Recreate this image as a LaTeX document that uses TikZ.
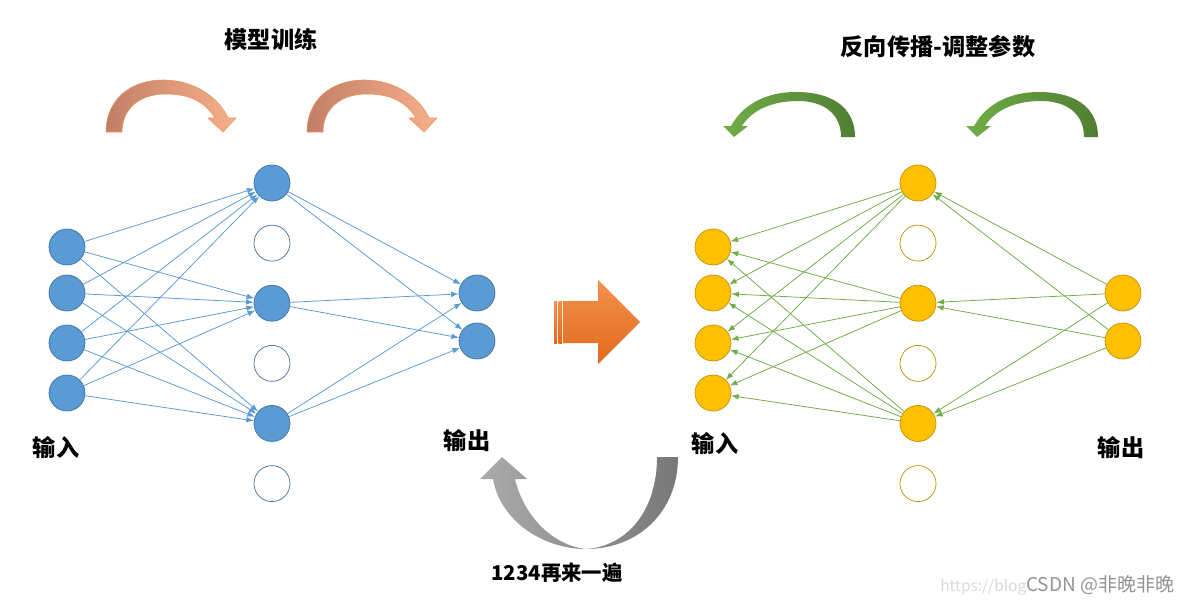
\documentclass[tikz,border=0pt]{standalone}
\usepackage{fontspec}
\newfontfamily\cjk{Noto Sans CJK SC}
\usetikzlibrary{arrows.meta,positioning}
\definecolor{nnblue}{HTML}{5B9BD5}
\definecolor{nnblueline}{HTML}{41719C}
\definecolor{nnyellow}{HTML}{FFC000}
\definecolor{nnyellowline}{HTML}{BF9000}
\definecolor{nngreen}{HTML}{70AD47}
\definecolor{nngreendark}{HTML}{507E32}
\definecolor{orlight}{HTML}{F8B08C}
\definecolor{ordark}{HTML}{C07F66}
\definecolor{orline}{HTML}{F0905A}
\definecolor{ortop}{HTML}{F4914E}
\definecolor{orbottom}{HTML}{E2691A}
\definecolor{graylight}{HTML}{ABABAB}
\definecolor{graydark}{HTML}{787878}

\tikzset{
  bluenode/.style={draw=nnblueline, fill=nnblue, circle, inner sep=0pt, minimum size=0.9cm, line width=0.5pt},
  blueempty/.style={bluenode, fill=white},
  yellownode/.style={draw=nnyellowline, fill=nnyellow, circle, inner sep=0pt, minimum size=0.9cm, line width=0.5pt},
  yellowempty/.style={yellownode, fill=white},
  fwd/.style={-{Latex[length=1.9mm,width=1.4mm]}, draw=nnblue, line width=0.55pt},
  bwd/.style={-{Latex[length=1.9mm,width=1.4mm]}, draw=nngreen, line width=0.55pt},
  label/.style={font=\cjk\bfseries\fontsize{16.5}{18}\selectfont, inner sep=0pt},
  node distance=0.585cm
}

\begin{document}
\begin{tikzpicture}[x=0.025cm, y=-0.025cm]
  \useasboundingbox (0,0) rectangle (1183,604);

  % forward net
  \node[bluenode] (in1) at (67,247) {};
  \node[bluenode] (in2) at (67,293) {};
  \node[bluenode] (in3) at (67,343) {};
  \node[bluenode] (in4) at (67,393) {};
  \node[bluenode] (hid1) at (272,183) {};
  \node[blueempty, below = of hid1] (hid2) {};
  \node[bluenode, below = of hid2] (hid3) {};
  \node[blueempty, below = of hid3] (hid4) {};
  \node[bluenode, below = of hid4] (hid5) {};
  \node[blueempty, below = of hid5] (hid6) {};
  \node[bluenode] (out1) at (477,293) {};
  \node[bluenode] (out2) at (477,341) {};

  \draw[fwd] (in1) -- (hid1);
  \draw[fwd] (in1) -- (hid3);
  \draw[fwd] (in1) -- (hid5);
  \draw[fwd] (in2) -- (hid1);
  \draw[fwd] (in2) -- (hid3);
  \draw[fwd] (in2) -- (hid5);
  \draw[fwd] (in3) -- (hid1);
  \draw[fwd] (in3) -- (hid3);
  \draw[fwd] (in3) -- (hid5);
  \draw[fwd] (in4) -- (hid1);
  \draw[fwd] (in4) -- (hid3);
  \draw[fwd] (in4) -- (hid5);
  \draw[fwd] (hid1) -- (out1);
  \draw[fwd] (hid1) -- (out2);
  \draw[fwd] (hid3) -- (out1);
  \draw[fwd] (hid3) -- (out2);
  \draw[fwd] (hid5) -- (out1);
  \draw[fwd] (hid5) -- (out2);

  % backward net
  \node[yellownode] (rin1) at (713,247) {};
  \node[yellownode] (rin2) at (713,293) {};
  \node[yellownode] (rin3) at (713,343) {};
  \node[yellownode] (rin4) at (713,393) {};
  \node[yellownode] (rhid1) at (918,183) {};
  \node[yellowempty, below = of rhid1] (rhid2) {};
  \node[yellownode, below = of rhid2] (rhid3) {};
  \node[yellowempty, below = of rhid3] (rhid4) {};
  \node[yellownode, below = of rhid4] (rhid5) {};
  \node[yellowempty, below = of rhid5] (rhid6) {};
  \node[yellownode] (rout1) at (1123,293) {};
  \node[yellownode] (rout2) at (1123,341) {};

  \draw[bwd] (rhid1) -- (rin1);
  \draw[bwd] (rhid1) -- (rin2);
  \draw[bwd] (rhid1) -- (rin3);
  \draw[bwd] (rhid1) -- (rin4);
  \draw[bwd] (rhid3) -- (rin1);
  \draw[bwd] (rhid3) -- (rin2);
  \draw[bwd] (rhid3) -- (rin3);
  \draw[bwd] (rhid3) -- (rin4);
  \draw[bwd] (rhid5) -- (rin1);
  \draw[bwd] (rhid5) -- (rin2);
  \draw[bwd] (rhid5) -- (rin3);
  \draw[bwd] (rhid5) -- (rin4);
  \draw[bwd] (rout1) -- (rhid1);
  \draw[bwd] (rout1) -- (rhid3);
  \draw[bwd] (rout1) -- (rhid5);
  \draw[bwd] (rout2) -- (rhid1);
  \draw[bwd] (rout2) -- (rhid3);
  \draw[bwd] (rout2) -- (rhid5);

  % labels
  \node[label] (train) at (271,40) {模型训练};
  \node[label] (back) at (938,47) {反向传播-调整参数};
  \node[label] (inlab) at (56,448) {输入};
  \node[label] (outlab) at (467,441) {输出};
  \node[label] (rinlab) at (715,444) {输入};
  \node[label] (routlab) at (1121,448) {输出};
  \node[label, font=\cjk\bfseries\itshape\fontsize{14.5}{16}\selectfont] (again) at (557,573) {1234再来一遍};
  \node[anchor=west, inner sep=0pt] (mark) at (940,585)
    {\cjk\fontsize{11}{14}\selectfont\textcolor{gray!30}{https://blog}\fontsize{13.5}{14}\selectfont\textcolor{gray!85}{CSDN @非晚非晚}};

  % orange curved arrows
  \shade[left color=ordark, right color=orlight, draw=orline, line width=0.4pt]
    (106,132) .. controls (106,100) and (130,80) .. (163,80)
    .. controls (195,80) and (219,98) .. (228,118) -- (236,118) -- (223,132) -- (208,118) -- (215,118)
    .. controls (205,102) and (190,94) .. (166,94)
    .. controls (138,94) and (122,110) .. (122,132) -- cycle;
  \shade[left color=ordark, right color=orlight, draw=orline, line width=0.4pt, shift={(201,0)}]
    (106,132) .. controls (106,100) and (130,80) .. (163,80)
    .. controls (195,80) and (219,98) .. (228,118) -- (236,118) -- (223,132) -- (208,118) -- (215,118)
    .. controls (205,102) and (190,94) .. (166,94)
    .. controls (138,94) and (122,110) .. (122,132) -- cycle;

  % green curved arrows
  \shade[left color=nngreen, right color=nngreendark]
    (855,137) .. controls (855,106) and (830,92) .. (796,92)
    .. controls (764,92) and (742,106) .. (731,126) -- (723,126) -- (734,137) -- (748,126) -- (742,126)
    .. controls (752,110) and (772,101) .. (798,101)
    .. controls (824,101) and (841,114) .. (841,137) -- cycle;
  \shade[left color=nngreen, right color=nngreendark, shift={(243,0)}]
    (855,137) .. controls (855,106) and (830,92) .. (796,92)
    .. controls (764,92) and (742,106) .. (731,126) -- (723,126) -- (734,137) -- (748,126) -- (742,126)
    .. controls (752,110) and (772,101) .. (798,101)
    .. controls (824,101) and (841,114) .. (841,137) -- cycle;

  % middle arrow
  \shade[top color=ortop, bottom color=orbottom]
    (563,301) -- (598,301) -- (598,280) -- (640,322) -- (598,364) -- (598,343) -- (563,343) -- cycle;
  \shade[top color=ortop, bottom color=orbottom] (554,301) rectangle (557,343);
  \shade[top color=ortop, bottom color=orbottom] (558.5,301) rectangle (562,343);

  % gray return arrow
  \shade[left color=graylight, right color=graydark]
    (678,457) .. controls (678,512) and (638,549) .. (586,549)
    .. controls (542,549) and (500,520) .. (493,479) -- (480,479) -- (502,457) -- (527,479) -- (515,479)
    .. controls (525,520) and (556,546) .. (586,549)
    .. controls (628,546) and (657,510) .. (657,457) -- cycle;
\end{tikzpicture}
\end{document}
